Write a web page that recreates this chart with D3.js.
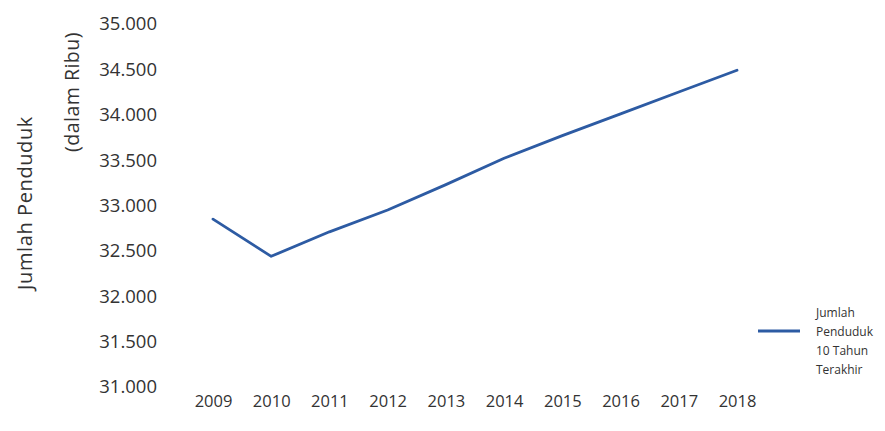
<!DOCTYPE html>
<html>
<head>
<meta charset="utf-8">
<script src="https://cdn.jsdelivr.net/npm/d3@7/dist/d3.min.js"></script>
<style>
  html, body { margin: 0; padding: 0; background: #fff; }
  svg { display: block; }
</style>
</head>
<body>
<svg id="chart" width="885" height="431"></svg>
<script>
// Population over the last ten years (in thousands)
const years = ["2009", "2010", "2011", "2012", "2013", "2014", "2015", "2016", "2017", "2018"];
const population = [32850, 32440, 32710, 32950, 33230, 33520, 33770, 34010, 34250, 34490];
const yTicks = [31000, 31500, 32000, 32500, 33000, 33500, 34000, 34500, 35000];
const legendLines = ["Jumlah", "Penduduk", "10 Tahun", "Terakhir"];
const yTitle = "Jumlah Penduduk";
const yUnit = "(dalam Ribu)";

const svg = d3.select("#chart");
const textColor = "#333333";
const lineColor = "#2d5ba3";

const x = d3.scalePoint().domain(years).range([213, 737]);
const y = d3.scaleLinear().domain([31000, 35000]).range([387, 24]);

// Thousands separator uses a dot
const fmt = v => d3.format(",")(v).replace(/,/g, ".");

// Y axis (labels only)
const yAxis = svg.append("g")
  .attr("transform", "translate(157,0)")
  .call(d3.axisLeft(y).tickValues(yTicks).tickFormat(fmt).tickSize(0).tickPadding(0));
yAxis.select(".domain").remove();
yAxis.selectAll("text")
  .attr("font-family", "'Open Sans', sans-serif")
  .attr("font-size", 18.5)
  .attr("fill", textColor);

// X axis (labels only)
const xAxis = svg.append("g")
  .attr("transform", "translate(0,395)")
  .call(d3.axisBottom(x).tickSize(0).tickPadding(0));
xAxis.select(".domain").remove();
xAxis.selectAll("text")
  .attr("font-family", "'Open Sans', sans-serif")
  .attr("font-size", 16.5)
  .attr("fill", textColor);

// Axis titles
svg.append("text")
  .attr("transform", "translate(32,203) rotate(-90)")
  .attr("text-anchor", "middle")
  .attr("font-family", "'Open Sans', sans-serif")
  .attr("font-size", 20)
  .attr("letter-spacing", 0.6)
  .attr("fill", textColor)
  .text(yTitle);
svg.append("text")
  .attr("transform", "translate(79,92) rotate(-90)")
  .attr("text-anchor", "middle")
  .attr("font-family", "'Open Sans', sans-serif")
  .attr("font-size", 19.5)
  .attr("letter-spacing", 0.5)
  .attr("fill", textColor)
  .text(yUnit);

// Data line
const line = d3.line()
  .x((d, i) => x(years[i]))
  .y(d => y(d));
svg.append("path")
  .datum(population)
  .attr("d", line)
  .attr("fill", "none")
  .attr("stroke", lineColor)
  .attr("stroke-width", 2.8)
  .attr("stroke-linejoin", "round")
  .attr("stroke-linecap", "round");

// Legend
const legend = svg.append("g");
legend.append("line")
  .attr("x1", 758).attr("x2", 800)
  .attr("y1", 331).attr("y2", 331)
  .attr("stroke", lineColor)
  .attr("stroke-width", 3);
legend.selectAll("text")
  .data(legendLines)
  .join("text")
  .attr("x", 816)
  .attr("y", (d, i) => 317 + i * 19)
  .attr("font-family", "'Open Sans', sans-serif")
  .attr("font-size", 12)
  .attr("fill", textColor)
  .text(d => d);
</script>
</body>
</html>
